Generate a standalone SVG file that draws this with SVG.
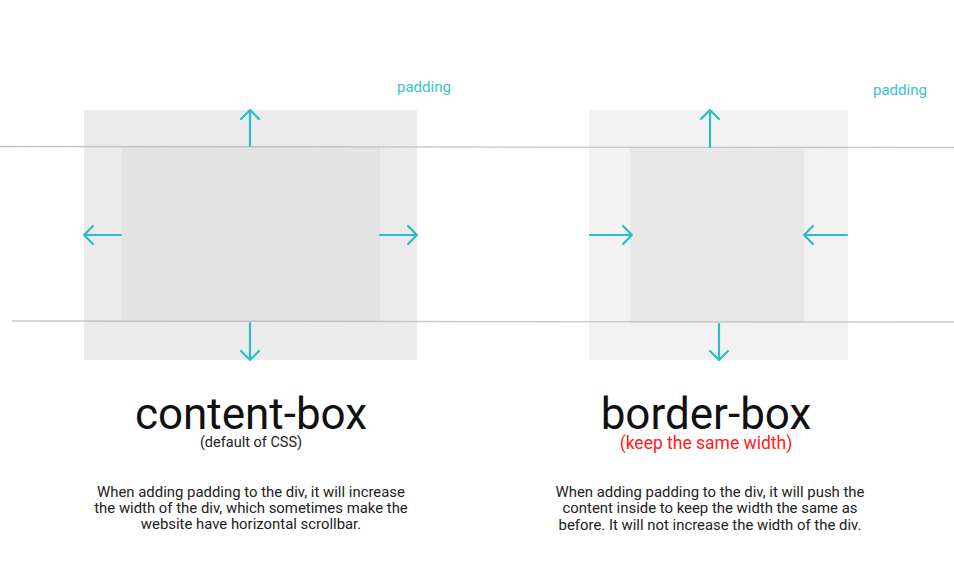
<svg xmlns="http://www.w3.org/2000/svg" width="954" height="566" viewBox="0 0 954 566">
<defs>
<style>
.ar{stroke:#2bbcc8;stroke-width:2.2;fill:none;stroke-linecap:round;stroke-linejoin:round}
.gl{stroke:#bdbdbd;stroke-width:1.3;opacity:0.85}
.pad{font-family:Roboto,"Liberation Sans",sans-serif;font-size:15px;fill:#3cc3cd}
.ttl{font-family:Roboto,"Liberation Sans",sans-serif;font-size:44px;fill:#111;text-anchor:middle}
.sub{font-family:Roboto,"Liberation Sans",sans-serif;font-size:14.5px;fill:#222;text-anchor:middle}
.desc{font-family:Roboto,"Liberation Sans",sans-serif;font-size:14.9px;fill:#222;text-anchor:middle}
</style>
</defs>
<rect width="954" height="566" fill="#fff"/>
<g id="content-box">
<rect x="84" y="110" width="333" height="250" fill="#ebebeb"/>
<rect x="122" y="146" width="258" height="176" fill="#e3e3e3"/>
<text class="pad" x="397" y="92">padding</text>
<text class="ttl" x="251" y="429">content-box</text>
<text class="sub" x="251" y="447">(default of CSS)</text>
<text class="desc"><tspan x="251" y="497">When adding padding to the div, it will increase</tspan><tspan x="251" y="513">the width of the div, which sometimes make the</tspan><tspan x="251" y="529">website have horizontal scrollbar.</tspan></text>
</g>
<g id="border-box">
<rect x="589" y="110" width="259" height="250" fill="#f2f2f2"/>
<rect x="630" y="147" width="174" height="176" fill="#e8e8e8"/>
<text class="pad" x="873" y="95">padding</text>
<text class="ttl" x="706" y="429">border-box</text>
<text class="sub" x="706" y="449" style="fill:#ff2020;font-size:17.5px">(keep the same width)</text>
<text class="desc"><tspan x="710" y="497">When adding padding to the div, it will push the</tspan><tspan x="710" y="513">content inside to keep the width the same as</tspan><tspan x="710" y="530">before. It will not increase the width of the div.</tspan></text>
</g>
<g id="guides">
<line class="gl" x1="0" y1="146.5" x2="954" y2="147.5"/>
<line class="gl" x1="12" y1="321" x2="954" y2="322"/>
</g>
<g id="connectors">
<path class="ar" d="M250 146V110M241 119L250 110L259 119"/>
<path class="ar" d="M121 235H84M93 226L84 235L93 244"/>
<path class="ar" d="M380 235H417M408 226L417 235L408 244"/>
<path class="ar" d="M250 323V360M241 351L250 360L259 351"/>
<path class="ar" d="M710 147V110M701 119L710 110L719 119"/>
<path class="ar" d="M590 235H632M623 226L632 235L623 244"/>
<path class="ar" d="M847 235H804M813 226L804 235L813 244"/>
<path class="ar" d="M719 324V360M710 351L719 360L728 351"/>
</g>
</svg>
